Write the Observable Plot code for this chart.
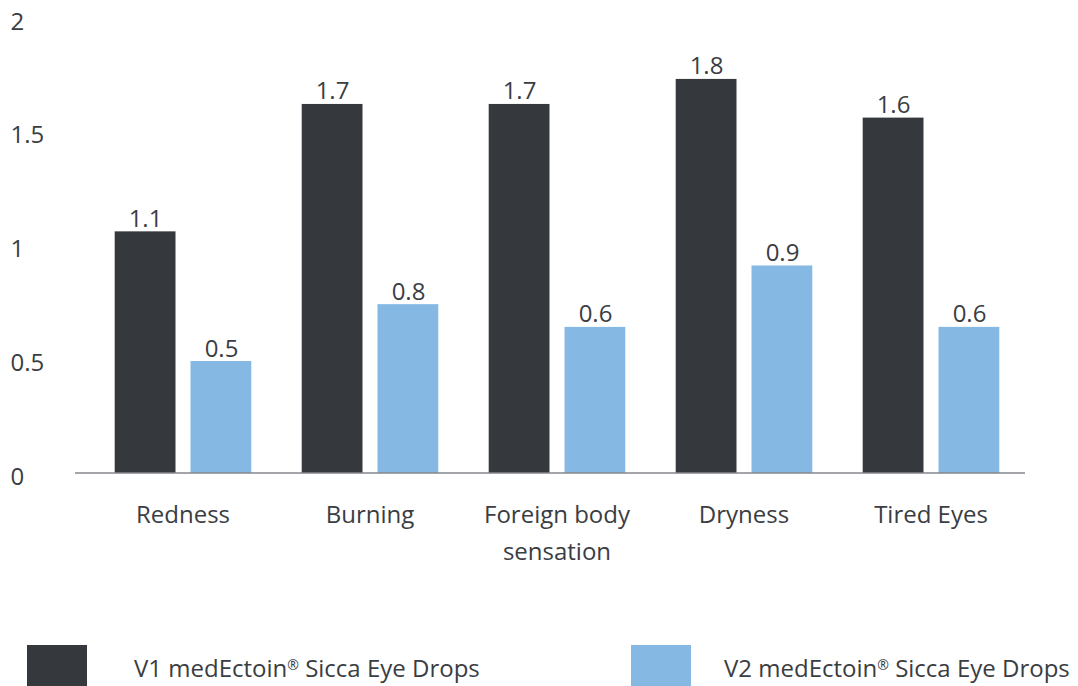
<!DOCTYPE html>
<html><head><meta charset="utf-8">
<script src="https://cdn.jsdelivr.net/npm/d3@7"></script>
<script src="https://cdn.jsdelivr.net/npm/@observablehq/plot@0.6"></script>
<style>
body{margin:0;background:#fff;font-family:"Open Sans",sans-serif;color:#3a3d42;overflow:hidden}
#legend{position:relative;height:41px;width:1078px}
.box{position:absolute;top:0;width:60px;height:41px}
.lab{position:absolute;top:7px;font-size:24px;line-height:32px;white-space:nowrap}
.lab sup{font-size:14px;vertical-align:top;position:relative;top:-3px}
</style></head><body>
<div id="chart"></div>
<div id="legend"></div>
<script>
const categories = ["Redness", "Burning", "Foreign body\nsensation", "Dryness", "Tired Eyes"];
const v1Values = [1.06, 1.62, 1.62, 1.73, 1.56];
const v2Values = [0.49, 0.74, 0.64, 0.91, 0.64];
const v1Labels = ["1.1", "1.7", "1.7", "1.8", "1.6"];
const v2Labels = ["0.5", "0.8", "0.6", "0.9", "0.6"];
const yTicks = [0, 0.5, 1, 1.5, 2];
const seriesNames = ["V1 medEctoin® Sicca Eye Drops", "V2 medEctoin® Sicca Eye Drops"];
const colors = ["#35383d", "#85b9e3"];

const v1 = categories.map((c, i) => ({cat: c, value: v1Values[i], label: v1Labels[i]}));
const v2 = categories.map((c, i) => ({cat: c, value: v2Values[i], label: v2Labels[i]}));
const textColor = "#3a3d42";
const fs = 24;

const chart = Plot.plot({
  width: 1078,
  height: 645,
  marginLeft: 75,
  marginRight: 53,
  marginTop: 17.5,
  marginBottom: 172.5,
  style: {fontFamily: "Open Sans", color: textColor, background: "#fff"},
  x: {type: "band", domain: categories, range: [88.5, 1024.5], padding: 0, axis: null},
  y: {domain: [0, 2], axis: null},
  marks: [
    Plot.barY(v1, {x: "cat", y: "value", fill: colors[0], insetLeft: 25.7, insetRight: 100.5}),
    Plot.barY(v2, {x: "cat", y: "value", fill: colors[1], insetLeft: 101.5, insetRight: 24.7}),
    Plot.ruleY([0], {stroke: "#4a4d52", strokeWidth: 1.2}),
    Plot.text(v1, {x: "cat", y: "value", text: "label", dx: -37.5, dy: -5, lineAnchor: "bottom", fontSize: fs, fill: textColor}),
    Plot.text(v2, {x: "cat", y: "value", text: "label", dx: 38.5, dy: -5, lineAnchor: "bottom", fontSize: fs, fill: textColor}),
    Plot.axisY({ticks: yTicks, tickSize: 0, tickPadding: 0, textAnchor: "start", dx: -65, dy: 4, fontSize: fs, fill: textColor, label: null, tickFormat: d => String(d)}),
    Plot.text(categories, {x: d => d, frameAnchor: "bottom", lineAnchor: "top", dy: 24, lineHeight: 1.54, fontSize: fs, fill: textColor})
  ]
});
document.getElementById("chart").appendChild(chart);

const legend = document.getElementById("legend");
const boxX = [27, 631];
const textX = [134, 724];
seriesNames.forEach((name, i) => {
  const b = document.createElement("div");
  b.className = "box"; b.style.left = boxX[i] + "px"; b.style.background = colors[i];
  legend.appendChild(b);
  const t = document.createElement("div");
  t.className = "lab"; t.style.left = textX[i] + "px";
  t.innerHTML = name.replace("®", "<sup>®</sup>");
  legend.appendChild(t);
});
</script>
</body></html>
